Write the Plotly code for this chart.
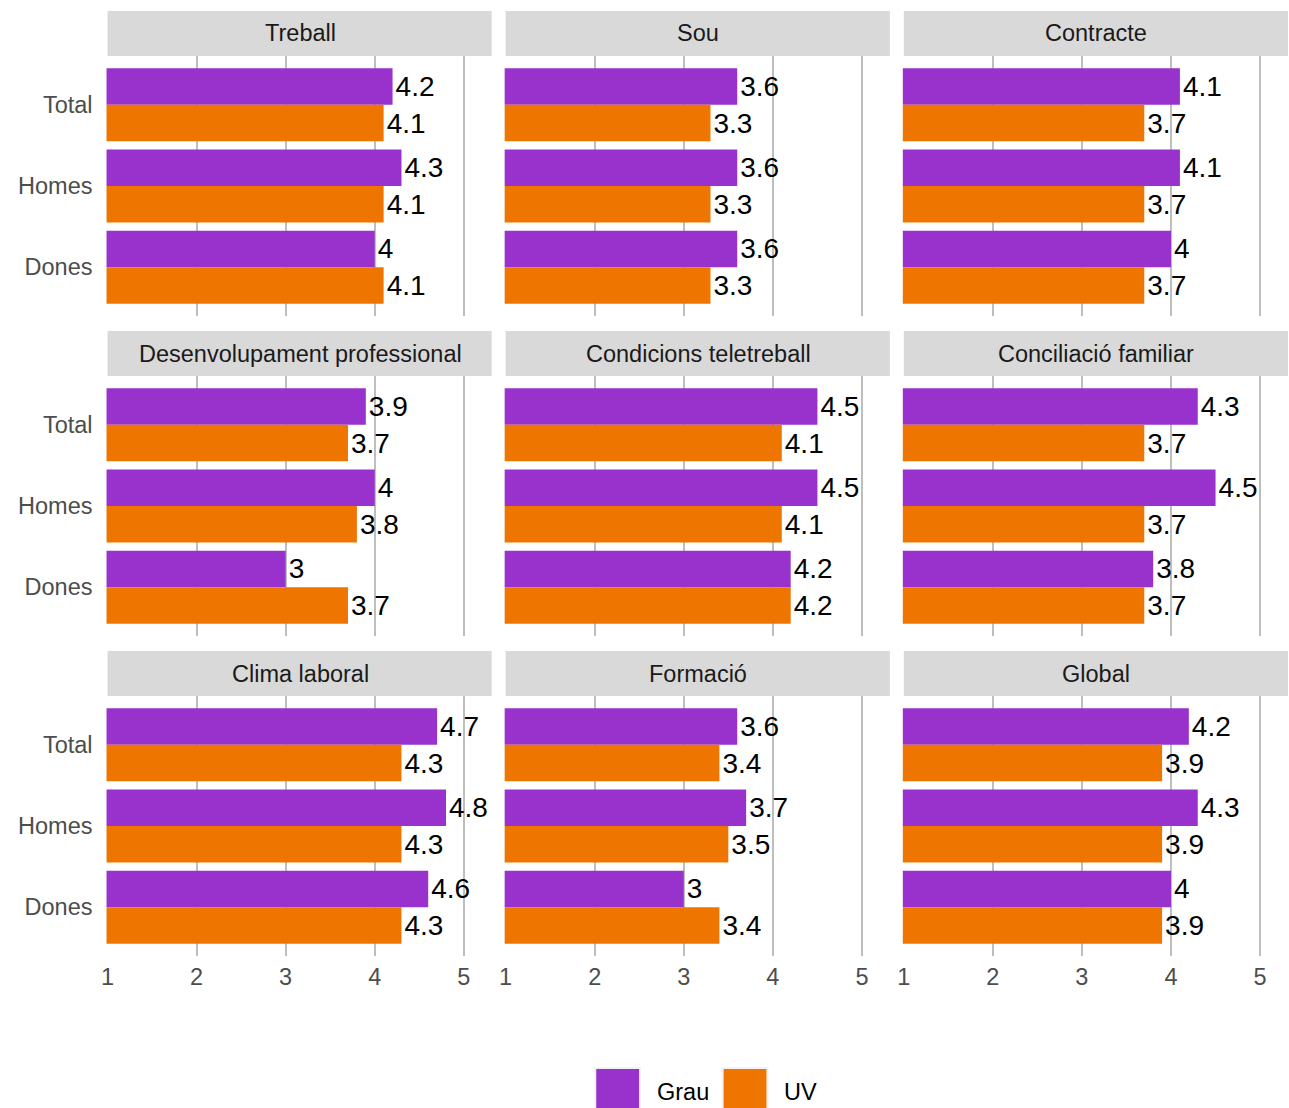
import plotly.graph_objects as go

# ---------------- data ----------------
panels = ["Treball", "Sou", "Contracte",
          "Desenvolupament professional", "Condicions teletreball", "Conciliació familiar",
          "Clima laboral", "Formació", "Global"]
groups = ["Total", "Homes", "Dones"]
series = ["Grau", "UV"]

# values per panel, in order Total, Homes, Dones
grau_values = [
    [4.2, 4.3, 4.0],
    [3.6, 3.6, 3.6],
    [4.1, 4.1, 4.0],
    [3.9, 4.0, 3.0],
    [4.5, 4.5, 4.2],
    [4.3, 4.5, 3.8],
    [4.7, 4.8, 4.6],
    [3.6, 3.7, 3.0],
    [4.2, 4.3, 4.0],
]
uv_values = [
    [4.1, 4.1, 4.1],
    [3.3, 3.3, 3.3],
    [3.7, 3.7, 3.7],
    [3.7, 3.8, 3.7],
    [4.1, 4.1, 4.2],
    [3.7, 3.7, 3.7],
    [4.3, 4.3, 4.3],
    [3.4, 3.5, 3.4],
    [3.9, 3.9, 3.9],
]
x_ticks = [1, 2, 3, 4, 5]

# ---------------- style ----------------
W, H = 1289, 1108
FONT = "Liberation Sans, Arial, Helvetica, sans-serif"
TXT = 23.5
colors = {"Grau": "#9932CC", "UV": "#EE7600"}
col_left = [101, 501, 901]
col_w = 387
row_top = [56, 376, 696]
row_h = 260
strip_h = 45
bar_w = 0.45
x_range = [0.99, 5.313]


def px(xp):
    return xp / W


def py(yp):
    return 1 - yp / H


fig = go.Figure()
layout = dict(
    width=W, height=H,
    margin=dict(l=0, r=0, t=0, b=0),
    paper_bgcolor="white", plot_bgcolor="white",
    showlegend=False,
    font=dict(family=FONT, size=TXT, color="#4D4D4D"),
    shapes=[], annotations=[],
)

n_groups = len(groups)
ypos = [n_groups - i for i in range(n_groups)]  # Total at top

for k, name in enumerate(panels):
    r, c = divmod(k, 3)
    idx = "" if k == 0 else str(k + 1)
    xa, ya = "x" + idx, "y" + idx
    for s, vals, off in (("Grau", grau_values[k], bar_w / 2), ("UV", uv_values[k], -bar_w / 2)):
        yy = [p + off for p in ypos]
        fig.add_trace(go.Bar(
            x=vals, y=yy, orientation="h", width=bar_w,
            marker=dict(color=colors[s], line=dict(width=0)),
            text=[f"{v:g}" for v in vals],
            textposition="outside", constraintext="none", cliponaxis=False,
            textfont=dict(family=FONT, size=28, color="black"),
            name=s, xaxis=xa, yaxis=ya, showlegend=False,
        ))
    layout["xaxis" + idx] = dict(
        domain=[px(col_left[c]), px(col_left[c] + col_w)],
        anchor=ya, range=x_range, tickvals=x_ticks,
        showgrid=True, gridcolor="#BEBEBE", gridwidth=2,
        zeroline=False, showline=False, ticks="",
        showticklabels=(r == 2), fixedrange=True,
        tickfont=dict(family=FONT, size=TXT, color="#4D4D4D"),
        ticklabelstandoff=4,
    )
    layout["yaxis" + idx] = dict(
        domain=[py(row_top[r] + row_h), py(row_top[r])],
        anchor=xa, range=[0.4, 3.6], tickvals=ypos, ticktext=groups,
        showgrid=False, zeroline=False, showline=False, ticks="",
        showticklabels=(c == 0), fixedrange=True,
        tickfont=dict(family=FONT, size=TXT, color="#4D4D4D"),
        ticklabelstandoff=13,
    )
    # strip
    layout["shapes"].append(dict(
        type="rect", xref="paper", yref="paper",
        x0=px(col_left[c] + 1), x1=px(col_left[c] + col_w),
        y0=py(row_top[r]), y1=py(row_top[r] - strip_h),
        fillcolor="#D9D9D9", line=dict(width=0), layer="below",
    ))
    layout["annotations"].append(dict(
        xref="paper", yref="paper",
        x=px(col_left[c] + 1 + col_w / 2), y=py(row_top[r] - strip_h / 2),
        text=name, showarrow=False, xanchor="center", yanchor="middle",
        font=dict(family=FONT, size=TXT, color="#1A1A1A"),
    ))

# legend (drawn manually to match large keys)
legend_keys = [(591, 652), (719, 780)]
for s, (kx, tx) in zip(series, legend_keys):
    layout["shapes"].append(dict(
        type="rect", xref="paper", yref="paper",
        x0=px(kx), x1=px(kx + 47), y0=py(1108), y1=py(1067),
        fillcolor="#F2F2F2", line=dict(width=0),
    ))
    layout["shapes"].append(dict(
        type="rect", xref="paper", yref="paper",
        x0=px(kx + 2), x1=px(kx + 45), y0=py(1108), y1=py(1069),
        fillcolor=colors[s], line=dict(width=0),
    ))
    layout["annotations"].append(dict(
        xref="paper", yref="paper", x=px(tx), y=py(1092),
        text=s, showarrow=False, xanchor="left", yanchor="middle",
        font=dict(family=FONT, size=TXT, color="black"),
    ))

fig.update_layout(**layout)
fig.write_html(
    "out.html",
    config={"displayModeBar": False},
    post_script="document.body.style.margin='0';document.body.style.padding='0';"
                "document.body.style.overflow='hidden';",
)
